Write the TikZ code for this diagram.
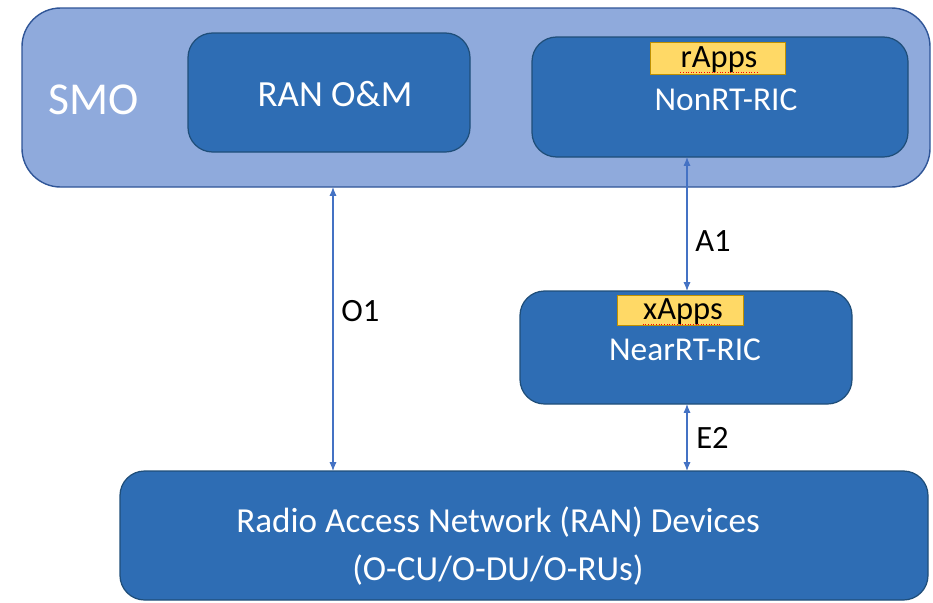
\documentclass[tikz,border=0pt]{standalone}
\usepackage{fontspec}
\setmainfont{Carlito}
\usetikzlibrary{arrows.meta,positioning}
\definecolor{smofill}{HTML}{8FAADC}
\definecolor{smoline}{HTML}{2F5597}
\definecolor{boxfill}{HTML}{2E6DB4}
\definecolor{boxline}{HTML}{1F4E79}
\definecolor{appfill}{HTML}{FFD966}
\definecolor{appline}{HTML}{BF9000}
\definecolor{linkcol}{HTML}{4472C4}
\tikzset{
  smobox/.style={draw=smoline, fill=smofill, rounded corners=22pt, line width=0.8pt},
  block/.style={draw=boxline, fill=boxfill, rounded corners=14pt, line width=0.7pt},
  blocktext/.style={text=white, font=\fontsize{19}{23}\selectfont},
  appbox/.style={draw=appline, fill=appfill, line width=0.5pt},
  spell/.style={red, densely dotted, line width=0.5pt},
  link/.style={linkcol, line width=0.6pt, {Latex[length=5pt,width=4pt]}-{Latex[length=5pt,width=4pt]}},
  lbl/.style={font=\fontsize{18.5}{22}\selectfont, text=black, inner sep=0pt}
}

\begin{document}
\begin{tikzpicture}[x=0.02cm, y=-0.02cm]
  \useasboundingbox (0,0) rectangle (933,602);
  % SMO frame
  \draw[smobox] (22,8) rectangle (930,187);
  \node[text=white, font=\fontsize{26}{30}\selectfont] (smo) at (94,100) {SMO};
  % boxes
  \draw[block] (188,33) rectangle (470,152);
  \node[blocktext, font=\fontsize{21}{25}\selectfont] (oam) at (335,94) {RAN O\&M};
  \draw[block] (532,37) rectangle (908,157);
  \draw[appbox] (650,42) rectangle (785,74);
  \node[lbl] (rapps) at (719,60) {rApps};
  \draw[spell] (rapps.south west) ++(0,-1) -- ++(78,0);
  \node[blocktext] (nonrt) at (726,100) {NonRT-RIC};
  \draw[block] (520,291) rectangle (852,404);
  \draw[appbox] (617,295) rectangle (743,325);
  \node[lbl] (xapps) at (683,312) {xApps};
  \draw[spell] (xapps.south west) ++(0,-1) -- ++(77,0);
  \node[blocktext] (nearrt) at (685,350) {NearRT-RIC};
  \draw[block] (120,471) rectangle (928,600);
  \node[text=white, align=center, font=\fontsize{20}{27}\selectfont] (ran) at (498,546) {Radio Access Network (RAN) Devices\\(O-CU/O-DU/O-RUs)};
  % interfaces
  \coordinate (o1top) at (333,187);
  \coordinate (o1bot) at (333,471);
  \coordinate (a1top) at (687,157);
  \coordinate (a1bot) at (687,291);
  \coordinate (e2top) at (687,404);
  \coordinate (e2bot) at (687,471);
  \draw[link] (o1top) -- (o1bot);
  \draw[link] (a1top) -- (a1bot);
  \draw[link] (e2top) -- (e2bot);
  \node[lbl, anchor=west] (o1) at (341,311) {O1};
  \node[lbl, anchor=west] (a1) at (695,241) {A1};
  \node[lbl, anchor=west] (e2) at (696,438) {E2};
\end{tikzpicture}
\end{document}
